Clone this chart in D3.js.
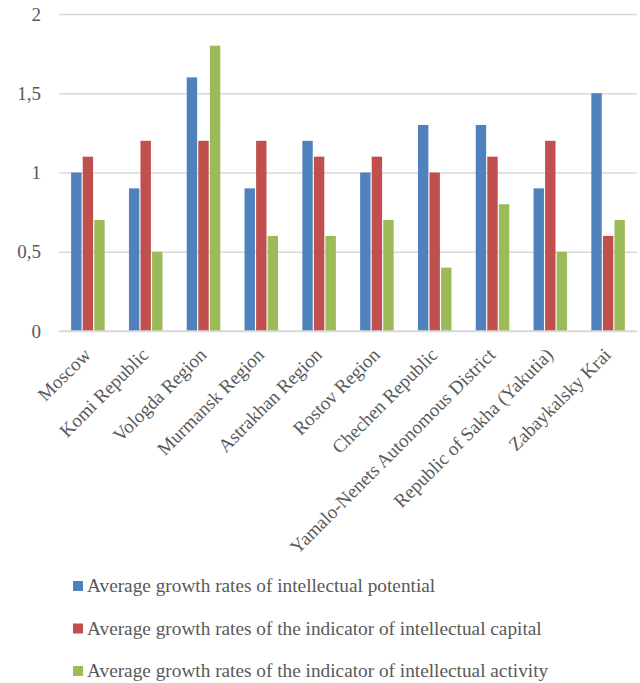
<!DOCTYPE html>
<html>
<head>
<meta charset="utf-8">
<script src="https://cdn.jsdelivr.net/npm/d3@7"></script>
<style>
  body { margin: 0; background: #fff; }
  text { font-family: "Liberation Serif", "Times New Roman", serif; fill: #595959; }
</style>
</head>
<body>
<div id="chart"></div>
<script>
var regions = ["Moscow", "Komi Republic", "Vologda Region", "Murmansk Region", "Astrakhan Region",
  "Rostov Region", "Chechen Republic", "Yamalo-Nenets Autonomous District",
  "Republic of Sakha (Yakutia)", "Zabaykalsky Krai"];
var potential = [1.0, 0.9, 1.6, 0.9, 1.2, 1.0, 1.3, 1.3, 0.9, 1.5];
var capital   = [1.1, 1.2, 1.2, 1.2, 1.1, 1.1, 1.0, 1.1, 1.2, 0.6];
var activity  = [0.7, 0.5, 1.8, 0.6, 0.6, 0.7, 0.4, 0.8, 0.5, 0.7];
var seriesNames = ["Average growth rates of intellectual potential",
  "Average growth rates of the indicator of intellectual capital",
  "Average growth rates of the indicator of intellectual activity"];
var colors = ["#4F81BD", "#C0504D", "#9BBB59"];
var yTicks = [0, 0.5, 1, 1.5, 2];

var width = 640, height = 683;
var plotLeft = 59, plotRight = 637, plotTop = 14, plotBottom = 331;

var svg = d3.select("#chart").append("svg")
  .attr("width", width)
  .attr("height", height);

var x = d3.scaleBand().domain(regions).range([plotLeft, plotRight]).paddingInner(0.38).paddingOuter(0.19);
var keys = [0, 1, 2];
var x1 = d3.scaleBand().domain(keys).range([0, x.bandwidth()]).padding(0.1);
var y = d3.scaleLinear().domain([0, 2]).range([plotBottom, plotTop]);

var fmt = function(d) { return String(d).replace(".", ","); };

// gridlines
svg.append("g")
  .attr("transform", "translate(" + plotLeft + ",0)")
  .call(d3.axisLeft(y).tickValues(yTicks).tickSize(-(plotRight - plotLeft)).tickFormat(""))
  .call(function(g) {
    g.select(".domain").remove();
    g.selectAll("line").attr("stroke", "#d9d9d9").attr("stroke-width", 1.3);
  });

// y labels
svg.append("g")
  .attr("transform", "translate(" + plotLeft + ",0)")
  .call(d3.axisLeft(y).tickValues(yTicks).tickSize(0).tickPadding(18).tickFormat(fmt))
  .call(function(g) {
    g.select(".domain").remove();
    g.selectAll("text").attr("font-size", "19px").style("fill", "#595959")
      .attr("font-family", "Liberation Serif");
  });

var allSeries = [potential, capital, activity];
var rows = regions.map(function(r, i) {
  return { region: r, values: keys.map(function(k) { return { k: k, v: allSeries[k][i] }; }) };
});

var groups = svg.append("g").selectAll("g")
  .data(rows).enter().append("g")
  .attr("transform", function(d) { return "translate(" + x(d.region) + ",0)"; });

groups.selectAll("rect")
  .data(function(d) { return d.values; })
  .enter().append("rect")
  .attr("x", function(d) { return x1(d.k); })
  .attr("width", x1.bandwidth())
  .attr("y", function(d) { return y(d.v); })
  .attr("height", function(d) { return y(0) - y(d.v); })
  .attr("fill", function(d) { return colors[d.k]; });

// x axis line
svg.append("line")
  .attr("x1", plotLeft).attr("x2", plotRight)
  .attr("y1", y(0)).attr("y2", y(0))
  .attr("stroke", "#d9d9d9").attr("stroke-width", 1.5);

// x labels
var xAxis = svg.append("g")
  .attr("transform", "translate(0," + plotBottom + ")")
  .call(d3.axisBottom(x).tickSize(0).tickPadding(0));
xAxis.select(".domain").remove();
xAxis.selectAll("text")
  .attr("font-size", "19px")
  .attr("font-family", "Liberation Serif")
  .style("fill", "#595959")
  .attr("text-anchor", "end")
  .attr("dy", null)
  .attr("y", null)
  .attr("transform", "translate(4,25) rotate(-45)");

// legend
var legend = svg.append("g").selectAll("g")
  .data(seriesNames).enter().append("g")
  .attr("transform", function(d, i) { return "translate(73," + (592 + i * 42.5) + ")"; });
legend.append("rect")
  .attr("x", 0).attr("y", -11).attr("width", 10).attr("height", 10)
  .attr("fill", function(d, i) { return colors[i]; });
legend.append("text")
  .attr("x", 14).attr("y", 0)
  .attr("font-size", "19.3px")
  .text(function(d) { return d; });
</script>
</body>
</html>
